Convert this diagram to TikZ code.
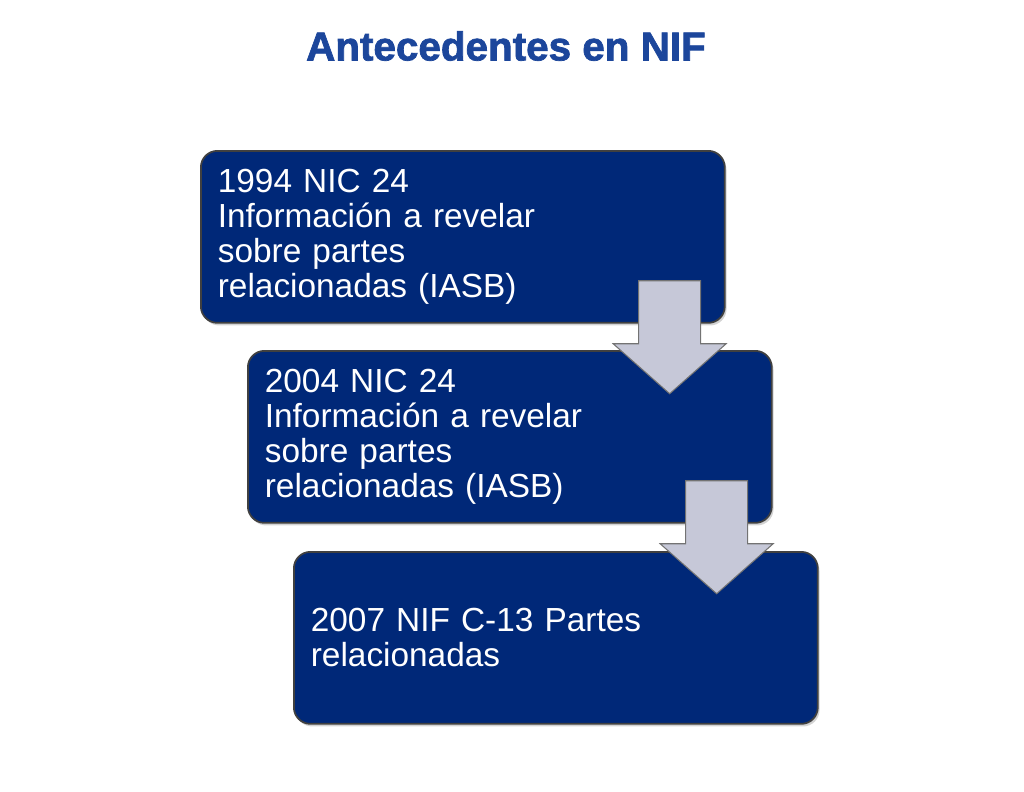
\documentclass[tikz,border=0pt]{standalone}
\usepackage{fontspec}
\setmainfont{Liberation Sans}
\newfontfamily\titulofont[FakeBold=1.8]{Liberation Sans Bold}
\usetikzlibrary{positioning}
\usetikzlibrary{calc}
\usetikzlibrary{shadows}

\definecolor{azulcaja}{RGB}{0,40,120}
\definecolor{azultitulo}{RGB}{28,70,155}
\definecolor{grisflecha}{RGB}{198,200,216}

\begin{document}
\begin{tikzpicture}[x=0.02cm,y=-0.02cm,semithick]
		\tikzstyle{caja}=[draw=black!75,line width=1pt,fill=azulcaja,rounded corners=0.33cm,
		minimum width=10.48cm,minimum height=3.44cm,anchor=north west,
		text=white,align=left,text width=9.8cm,inner xsep=0.34cm,
		font=\fontsize{19}{20}\selectfont,
		drop shadow={shadow xshift=1pt,shadow yshift=-1.5pt,opacity=0.35}]
		\tikzstyle{flecha}=[draw=black!55,fill=grisflecha,line width=0.6pt,line join=miter]
		
		\useasboundingbox (0,0) rectangle (1024,791);
		
		\node[font=\titulofont\fontsize{23}{26}\selectfont,text=azultitulo] (Titulo) at (506,46) {Antecedentes en NIF};
		
		\node[caja] (NIC1994) at (200,150) {1994 NIC 24\\Información a revelar\\sobre partes\\relacionadas (IASB)};
		\node[caja] (NIC2004) at (247,350) {2004 NIC 24\\Información a revelar\\sobre partes\\relacionadas (IASB)};
		\node[caja] (NIF2007) at (293,551) {2007 NIF C-13 Partes\\relacionadas};
		
		% flechas entre cajas
		\draw[flecha,shift={($(NIC1994.south east)+(-56,-43)$)}]
		(-31,0) -- (31,0) -- (31,63) -- (56.5,63) -- (0,113) -- (-56.5,63) -- (-31,63) -- cycle;
		\draw[flecha,shift={($(NIC2004.south east)+(-56,-43)$)}]
		(-31,0) -- (31,0) -- (31,63) -- (56.5,63) -- (0,113) -- (-56.5,63) -- (-31,63) -- cycle;
\end{tikzpicture}
\end{document}
